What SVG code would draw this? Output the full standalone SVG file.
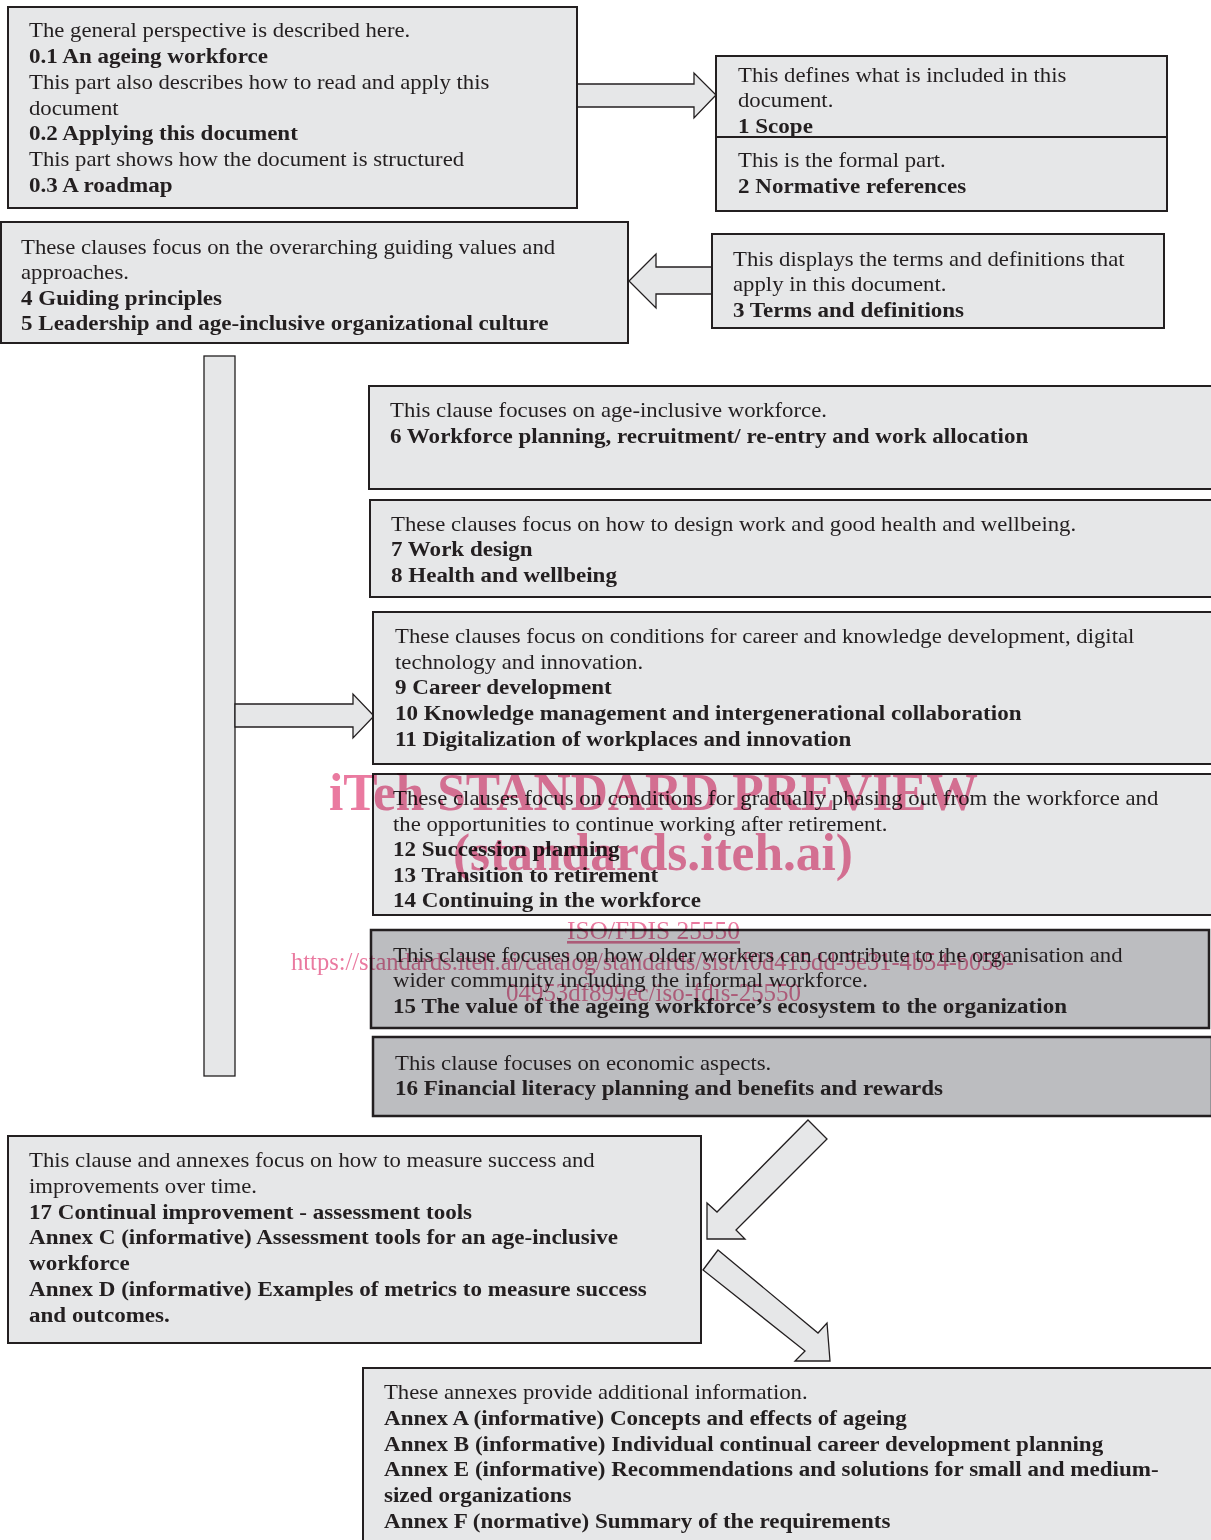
<svg xmlns="http://www.w3.org/2000/svg" width="1211" height="1540" viewBox="0 0 1211 1540">
<style>
.box{fill:#e6e7e8;stroke:#231f20;stroke-width:2}
.dark{fill:#bcbdc0;stroke:#231f20;stroke-width:2.5}
.arr{fill:#e6e7e8;stroke:#231f20;stroke-width:1.3;stroke-linejoin:miter}
.t{font-family:"Liberation Serif","DejaVu Serif",serif;font-size:20.5px;fill:#231f20;transform-box:fill-box;transform-origin:0 0;transform:scaleX(1.11)}
.b{font-weight:bold;transform:scaleX(1.125)}
.wm{font-family:"Liberation Serif",serif;fill:#ea7aa0;mix-blend-mode:multiply}
</style>
<rect width="1211" height="1540" fill="#ffffff"/>
<g id="connectors">
<polygon class="arr" points="577,84 694,84 694,73 716,95 694,118 694,107 577,107"/>
<polygon class="arr" points="714,267 656,267 656,254 629,281 656,308 656,294 714,294"/>
<rect class="arr" x="204" y="356" width="31" height="720"/>
<polygon class="arr" points="235,704 353,704 353,694 374,716 353,738 353,727 235,727"/>
<polygon class="arr" points="808,1120 827,1139 736,1230 745,1239 707,1239 707,1203 717,1212"/>
<polygon class="arr" points="718,1250 818,1333 827,1323 830,1361 795,1361 805,1351 703,1270"/>
</g>
<g id="node-intro">
<rect class="box" x="8" y="7" width="569" height="201"/>
<text class="t" x="29" y="37">The general perspective is described here.</text>
<text class="t b" x="29" y="63">0.1 An ageing workforce</text>
<text class="t" x="29" y="89">This part also describes how to read and apply this</text>
<text class="t" x="29" y="115">document</text>
<text class="t b" x="29" y="140">0.2 Applying this document</text>
<text class="t" x="29" y="166">This part shows how the document is structured</text>
<text class="t b" x="29" y="192">0.3 A roadmap</text>
</g>
<g id="node-scope">
<rect class="box" x="716" y="56" width="451" height="81"/>
<text class="t" x="738" y="82">This defines what is included in this</text>
<text class="t" x="738" y="107">document.</text>
<text class="t b" x="738" y="133">1 Scope</text>
</g>
<g id="node-normative">
<rect class="box" x="716" y="137" width="451" height="74"/>
<text class="t" x="738" y="167">This is the formal part.</text>
<text class="t b" x="738" y="193">2 Normative references</text>
</g>
<g id="node-principles">
<rect class="box" x="1" y="222" width="627" height="121"/>
<text class="t" x="21" y="254">These clauses focus on the overarching guiding values and</text>
<text class="t" x="21" y="279">approaches.</text>
<text class="t b" x="21" y="305">4 Guiding principles</text>
<text class="t b" x="21" y="330">5 Leadership and age-inclusive organizational culture</text>
</g>
<g id="node-terms">
<rect class="box" x="712" y="234" width="452" height="94"/>
<text class="t" x="733" y="266">This displays the terms and definitions that</text>
<text class="t" x="733" y="291">apply in this document.</text>
<text class="t b" x="733" y="317">3 Terms and definitions</text>
</g>
<g id="node-6">
<rect class="box" x="369" y="386" width="843" height="103"/>
<text class="t" x="390" y="417">This clause focuses on age-inclusive workforce.</text>
<text class="t b" x="390" y="443">6 Workforce planning, recruitment/ re-entry and work allocation</text>
</g>
<g id="node-7-8">
<rect class="box" x="370" y="500" width="842" height="97"/>
<text class="t" x="391" y="531">These clauses focus on how to design work and good health and wellbeing.</text>
<text class="t b" x="391" y="556">7 Work design</text>
<text class="t b" x="391" y="582">8 Health and wellbeing</text>
</g>
<g id="node-9-11">
<rect class="box" x="373" y="612" width="839" height="152"/>
<text class="t" x="395" y="643">These clauses focus on conditions for career and knowledge development, digital</text>
<text class="t" x="395" y="669">technology and innovation.</text>
<text class="t b" x="395" y="694">9 Career development</text>
<text class="t b" x="395" y="720">10 Knowledge management and intergenerational collaboration</text>
<text class="t b" x="395" y="746">11 Digitalization of workplaces and innovation</text>
</g>
<g id="node-12-14">
<rect class="box" x="373" y="774" width="839" height="141"/>
<text class="t" x="393" y="805">These clauses focus on conditions for gradually phasing out from the workforce and</text>
<text class="t" x="393" y="831">the opportunities to continue working after retirement.</text>
<text class="t b" x="393" y="856">12 Succession planning</text>
<text class="t b" x="393" y="882">13 Transition to retirement</text>
<text class="t b" x="393" y="907">14 Continuing in the workforce</text>
</g>
<g id="node-15">
<rect class="dark" x="371" y="930" width="838" height="98"/>
<text class="t" x="393" y="962">This clause focuses on how older workers can contribute to the organisation and</text>
<text class="t" x="393" y="987">wider community including the informal workforce.</text>
<text class="t b" x="393" y="1013">15 The value of the ageing workforce’s ecosystem to the organization</text>
</g>
<g id="node-16">
<rect class="dark" x="373" y="1037" width="839" height="79"/>
<text class="t" x="395" y="1070">This clause focuses on economic aspects.</text>
<text class="t b" x="395" y="1095">16 Financial literacy planning and benefits and rewards</text>
</g>
<g id="node-17">
<rect class="box" x="8" y="1136" width="693" height="207"/>
<text class="t" x="29" y="1167">This clause and annexes focus on how to measure success and</text>
<text class="t" x="29" y="1193">improvements over time.</text>
<text class="t b" x="29" y="1219">17 Continual improvement - assessment tools</text>
<text class="t b" x="29" y="1244">Annex C (informative) Assessment tools for an age-inclusive</text>
<text class="t b" x="29" y="1270">workforce</text>
<text class="t b" x="29" y="1296">Annex D (informative) Examples of metrics to measure success</text>
<text class="t b" x="29" y="1322">and outcomes.</text>
</g>
<g id="node-annexes">
<rect class="box" x="363" y="1368" width="849" height="174"/>
<text class="t" x="384" y="1399">These annexes provide additional information.</text>
<text class="t b" x="384" y="1425">Annex A (informative) Concepts and effects of ageing</text>
<text class="t b" x="384" y="1451">Annex B (informative) Individual continual career development planning</text>
<text class="t b" x="384" y="1476">Annex E (informative) Recommendations and solutions for small and medium-</text>
<text class="t b" x="384" y="1502">sized organizations</text>
<text class="t b" x="384" y="1528">Annex F (normative) Summary of the requirements</text>
</g>
<g id="watermark">
<text class="wm" x="329" y="810" style="font-size:53px;font-weight:bold" textLength="649" lengthAdjust="spacingAndGlyphs">iTeh STANDARD PREVIEW</text>
<text class="wm" x="453" y="870" style="font-size:53px;font-weight:bold" textLength="400" lengthAdjust="spacingAndGlyphs">(standards.iteh.ai)</text>
<text class="wm" x="567" y="939" style="font-size:26px" text-decoration="underline" textLength="173" lengthAdjust="spacingAndGlyphs">ISO/FDIS 25550</text>
<text class="wm" x="291" y="970" style="font-size:26px" textLength="723" lengthAdjust="spacingAndGlyphs">https://standards.iteh.ai/catalog/standards/sist/f0d415dd-5e31-4b54-b050-</text>
<text class="wm" x="506" y="1001" style="font-size:26px" textLength="295" lengthAdjust="spacingAndGlyphs">04953df899ec/iso-fdis-25550</text>
</g>
</svg>
